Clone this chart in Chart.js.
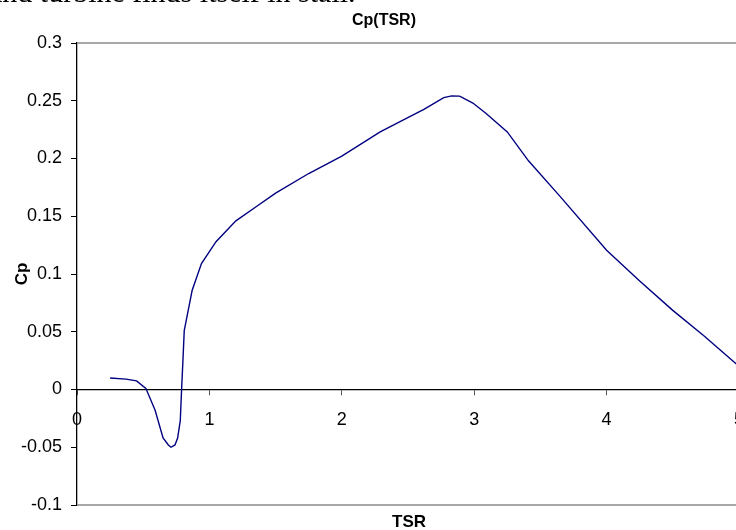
<!DOCTYPE html>
<html>
<head>
<meta charset="utf-8">
<script src="https://cdn.jsdelivr.net/npm/chart.js@4/dist/chart.umd.min.js"></script>
<style>
  html, body { margin: 0; padding: 0; overflow: hidden; background: #fff; width: 736px; height: 530px; }
  #wrap { position: absolute; left: 0; top: 0; width: 759px; height: 530px; }
  #doc { position: absolute; left: -11px; top: -23px; font: 30px/30px 'Liberation Serif', 'Times New Roman', serif; color: #000; white-space: nowrap; }
</style>
</head>
<body>
<div id="wrap"><canvas id="cpChart" width="759" height="530"></canvas></div>
<div id="doc">and turbine finds itself in stall.</div>
<script>
// Cp(TSR) curve
const tsr = [0.25, 0.37, 0.45, 0.52, 0.59, 0.65, 0.69, 0.71, 0.74, 0.76, 0.78, 0.79, 0.80, 0.81,
             0.87, 0.94, 1.05, 1.2, 1.35, 1.5, 1.75, 2.0, 2.29, 2.44, 2.62, 2.77, 2.83, 2.89,
             2.99, 3.09, 3.25, 3.41, 3.65, 4.0, 4.25, 4.5, 4.73, 4.98, 5.0];
const cp = [0.010, 0.009, 0.0075, 0.001, -0.018, -0.042, -0.048, -0.050, -0.048, -0.042, -0.027, 0.0, 0.025, 0.051,
            0.086, 0.109, 0.128, 0.146, 0.158, 0.170, 0.187, 0.202, 0.223, 0.232, 0.2425, 0.2527, 0.2542, 0.254,
            0.248, 0.239, 0.223, 0.198, 0.167, 0.1205, 0.094, 0.0685, 0.047, 0.022, 0.020];

const xTicks = [0, 1, 2, 3, 4, 5];
const xTickLabels = ['0', '1', '2', '3', '4', '5'];
const yTicks = [-0.1, -0.05, 0, 0.05, 0.1, 0.15, 0.2, 0.25, 0.3];
const yTickLabels = ['-0.1', '-0.05', '0', '0.05', '0.1', '0.15', '0.2', '0.25', '0.3'];

const chartTitle = 'Cp(TSR)';
const xTitle = 'TSR';
const yTitle = 'Cp';

// grey frame top/bottom + chart title and x title
const framePlugin = {
    id: 'frame',
    beforeDatasetsDraw(chart) {
        const {ctx, chartArea: a} = chart;
        ctx.save();
        ctx.strokeStyle = '#8c8c8c';
        ctx.lineWidth = 1.5;
        ctx.beginPath();
        ctx.moveTo(a.left, a.top);
        ctx.lineTo(a.right, a.top);
        ctx.moveTo(a.left, a.bottom);
        ctx.lineTo(a.right, a.bottom);
        ctx.stroke();
        ctx.restore();
    },
    afterDraw(chart) {
        const {ctx} = chart;
        ctx.save();
        ctx.fillStyle = '#000';
        ctx.textAlign = 'center';
        ctx.textBaseline = 'alphabetic';
        ctx.font = "bold 16px 'Liberation Sans', Arial, sans-serif";
        ctx.fillText(chartTitle, 384, 25);
        ctx.font = "bold 17px 'Liberation Sans', Arial, sans-serif";
        ctx.fillText(xTitle, 409, 527);
        ctx.restore();
    }
};

new Chart(document.getElementById('cpChart'), {
    type: 'line',
    data: {
        datasets: [{
            data: tsr.map((x, i) => ({x: x, y: cp[i]})),
            borderColor: '#000080',
            borderWidth: 1.4,
            pointRadius: 0,
            tension: 0,
            fill: false
        }]
    },
    options: {
        responsive: false,
        animation: false,
        // right side: x scale adds half the last label + tick padding (~20px)
        layout: { padding: { left: 0, top: 43, right: 0, bottom: 25 } },
        plugins: {
            legend: { display: false },
            tooltip: { enabled: false }
        },
        scales: {
            x: {
                type: 'linear',
                position: { y: 0 },
                min: 0,
                max: 5,
                afterBuildTicks: (s) => { s.ticks = xTicks.map(v => ({value: v})); },
                ticks: {
                    callback: (v, i) => xTickLabels[i],
                    color: '#000',
                    font: { size: 18, family: "'Liberation Sans', Arial, sans-serif" },
                    padding: 15,
                    maxRotation: 0
                },
                grid: { drawOnChartArea: false, tickLength: 5, tickColor: '#555' },
                border: { color: '#000', width: 1.3 }
            },
            y: {
                type: 'linear',
                position: 'left',
                min: -0.1,
                max: 0.3,
                afterBuildTicks: (s) => { s.ticks = yTicks.map(v => ({value: v})); },
                afterFit: (s) => { s.width = 77; }, // fixed gap left of the axis
                ticks: {
                    callback: (v, i) => yTickLabels[i],
                    color: '#000',
                    font: { size: 18, family: "'Liberation Sans', Arial, sans-serif" },
                    padding: 9
                },
                grid: { drawOnChartArea: false, tickLength: 6, tickColor: '#000' },
                border: { color: '#000', width: 1.3 },
                title: {
                    display: true,
                    text: yTitle,
                    color: '#000',
                    font: { size: 17, weight: 'bold', family: "'Liberation Sans', Arial, sans-serif" },
                    padding: { top: 12, bottom: 0 }
                }
            }
        }
    },
    plugins: [framePlugin]
});
</script>
</body>
</html>
